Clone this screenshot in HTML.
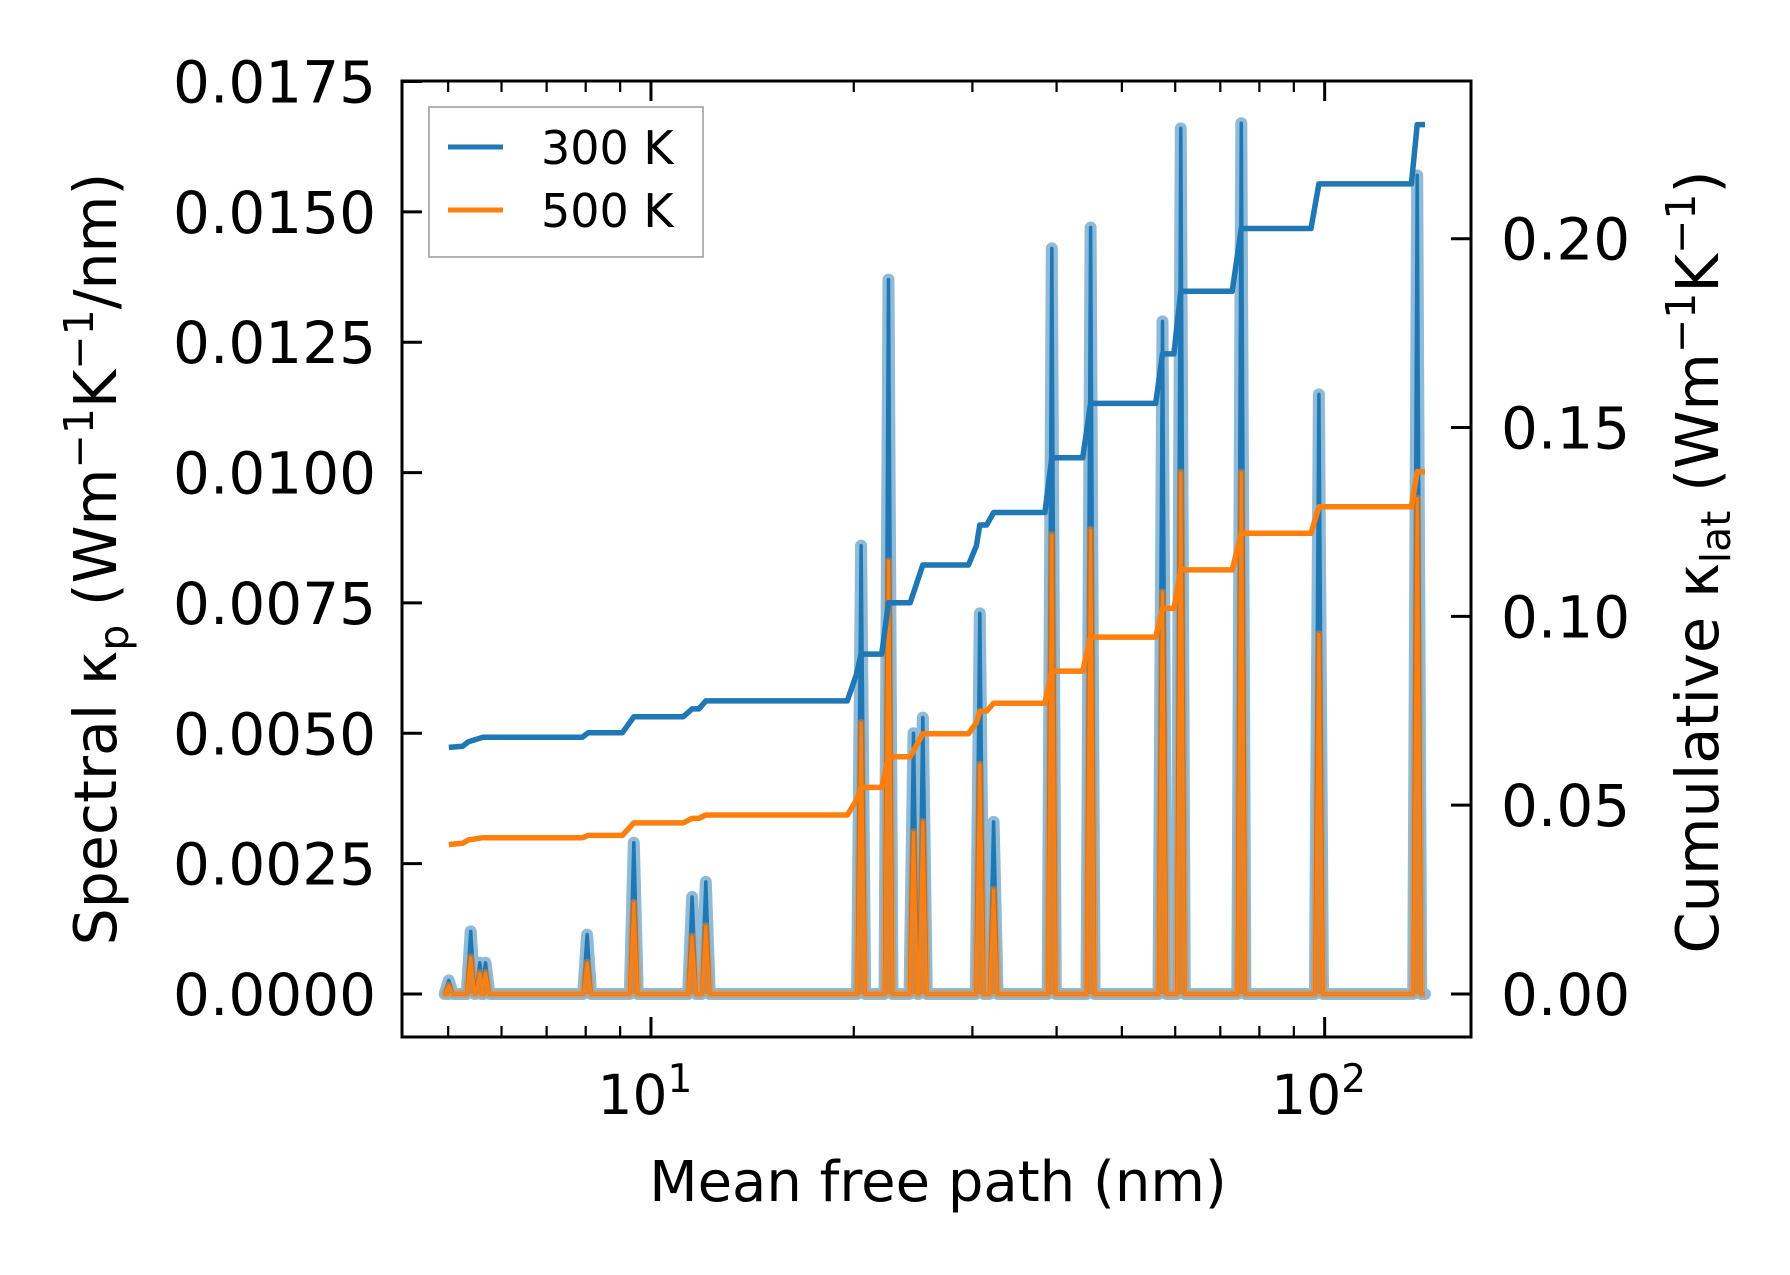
<!DOCTYPE html>
<html><head><meta charset="utf-8">
<style>
html,body{margin:0;padding:0;background:#fff;}
svg{display:block;font-family:"DejaVu Sans","Liberation Sans",sans-serif;}
</style></head>
<body>
<svg id="chart" width="1790" height="1275" viewBox="0 0 1790 1275" xmlns="http://www.w3.org/2000/svg">
<g id="plot"></g>
<g>
<text x="938" y="1201" text-anchor="middle" font-size="56">Mean free path (nm)</text>
<text transform="translate(116,559) rotate(-90)" text-anchor="middle" font-size="58.5">Spectral κ<tspan font-size="41" dy="12">p</tspan><tspan dy="-12"> (Wm</tspan><tspan font-size="41" dy="-23">−1</tspan><tspan dy="23">K</tspan><tspan font-size="41" dy="-23">−1</tspan><tspan dy="23">/nm)</tspan></text>
<text transform="translate(1718,562) rotate(-90)" text-anchor="middle" font-size="59">Cumulative κ<tspan font-size="41" dy="12">lat</tspan><tspan dy="-12"> (Wm</tspan><tspan font-size="41" dy="-23">−1</tspan><tspan dy="23">K</tspan><tspan font-size="41" dy="-23">−1</tspan><tspan dy="23">)</tspan></text>
</g>
<g>
<rect x="429" y="107" width="274" height="150" fill="#fff" fill-opacity="0.8" stroke="#999" stroke-width="1.5"/>
<line x1="448" y1="147" x2="503" y2="147" stroke="#1f77b4" stroke-width="5"/>
<text x="541" y="164" font-size="46">300 K</text>
<line x1="448" y1="210" x2="503" y2="210" stroke="#ff7f0e" stroke-width="5"/>
<text x="541" y="227" font-size="46">500 K</text>
</g>
</svg>
<script>
// Cumulative data
const cumMfp = [5.01,5.25,5.36,5.63,7.91,8.07,9.07,9.43,11.16,11.51,11.78,12.06,19.56,20.18,20.51,22.00,22.52,24.25,25.32,29.60,30.41,30.77,31.50,32.25,38.43,39.35,43.73,44.93,56.13,57.45,59.74,61.15,72.90,75.22,95.43,98.06,134.5,137.2,140.9];
const cum300 = [0.0653,0.0656,0.0668,0.0680,0.0680,0.0692,0.0692,0.0734,0.0734,0.0755,0.0755,0.0776,0.0776,0.0846,0.0900,0.0900,0.1036,0.1036,0.1136,0.1136,0.1187,0.1242,0.1242,0.1275,0.1275,0.1420,0.1420,0.1564,0.1564,0.1695,0.1695,0.1861,0.1861,0.2027,0.2027,0.2145,0.2145,0.2302,0.2302];
const cum500 = [0.0396,0.0399,0.0408,0.0414,0.0414,0.0420,0.0420,0.0453,0.0453,0.0465,0.0465,0.0474,0.0474,0.0513,0.0547,0.0547,0.0628,0.0628,0.0689,0.0689,0.0719,0.0749,0.0749,0.0770,0.0770,0.0855,0.0855,0.0945,0.0945,0.1021,0.1021,0.1123,0.1123,0.1220,0.1220,0.1290,0.1290,0.1383,0.1383];
// Spectral peaks
const peakMfp = [5.01,5.40,5.57,5.68,8.04,9.43,11.51,12.06,20.51,22.52,24.53,25.32,30.77,32.25,39.35,44.93,57.45,61.15,75.22,98.06,137.2];
const peak300 = [0.00026,0.0012,0.0006,0.0006,0.00114,0.0029,0.00186,0.00215,0.0086,0.0137,0.0050,0.0053,0.0073,0.0033,0.0143,0.0147,0.0129,0.0166,0.0167,0.0115,0.0157];
const peak500 = [0.00016,0.0007,0.0004,0.0004,0.0006,0.00175,0.0011,0.0013,0.0052,0.0083,0.0031,0.0033,0.0044,0.0020,0.0088,0.0089,0.0077,0.0100,0.0100,0.0069,0.0095];
const leftTicks = ["0.0000","0.0025","0.0050","0.0075","0.0100","0.0125","0.0150","0.0175"];
const rightTicks = ["0.00","0.05","0.10","0.15","0.20"];

const L=402,R=1471,T=81,B=1037;
const xMin=Math.log10(4.27), xMax=Math.log10(164.9);
const X=v=>L+(Math.log10(v)-xMin)/(xMax-xMin)*(R-L);
const YL=v=>994-v/0.0175*(994-81.5);
const YR=v=>994-v/0.2*(994-238.7);
const NS='http://www.w3.org/2000/svg';
const g=document.getElementById('plot');
function mk(tag,attrs,parent){const e=document.createElementNS(NS,tag);for(const k in attrs)e.setAttribute(k,attrs[k]);(parent||g).appendChild(e);return e;}

function specPts(h){
  const pts=[];const d=0.006;
  pts.push([X(5.01),YL(0)]);
  for(let i=0;i<peakMfp.length;i++){
    const lx=Math.log10(peakMfp[i]);
    pts.push([X(Math.pow(10,lx-d)),YL(0)]);
    pts.push([X(peakMfp[i]),YL(h[i])]);
    pts.push([X(Math.pow(10,lx+d)),YL(0)]);
  }
  pts.push([X(140.9),YL(0)]);
  return pts;
}
const toD=p=>p.map((q,i)=>(i?'L':'M')+q[0].toFixed(1)+','+q[1].toFixed(1)).join('');
const p3=specPts(peak300), p5=specPts(peak500);
let e;
e=mk('path',{d:toD(p3)+'Z',fill:'#1f77b4','fill-opacity':0.45,stroke:'none'});


e=mk('path',{d:toD(p3),fill:'none',stroke:'#1f77b4','stroke-opacity':0.5,'stroke-width':12,'stroke-linejoin':'round','stroke-linecap':'round'});


e=mk('path',{d:toD(p3),fill:'none',stroke:'#1f77b4','stroke-width':3.5,'stroke-linejoin':'round'});


e=mk('path',{d:toD(p5)+'Z',fill:'#ff7f0e','fill-opacity':0.5,stroke:'none'});


e=mk('path',{d:toD(p5),fill:'none',stroke:'#ff7f0e','stroke-opacity':0.5,'stroke-width':8,'stroke-linejoin':'round'});


e=mk('path',{d:toD(p5),fill:'none',stroke:'#ff7f0e','stroke-width':3,'stroke-linejoin':'round'});



e=mk('path',{d:toD(cumMfp.map((m,i)=>[X(m),YR(cum300[i])])),fill:'none',stroke:'#1f77b4','stroke-width':5.5,'stroke-linejoin':'round'});


e=mk('path',{d:toD(cumMfp.map((m,i)=>[X(m),YR(cum500[i])])),fill:'none',stroke:'#ff7f0e','stroke-width':5.5,'stroke-linejoin':'round'});



e=mk('rect',{x:L,y:T,width:R-L,height:B-T,fill:'none',stroke:'#000','stroke-width':3});



leftTicks.forEach(t=>{
  const y=YL(parseFloat(t));
  let l=mk('line',{x1:L,x2:L+20,y1:y,y2:y,stroke:'#000','stroke-width':3});
  
  
  let tx=mk('text',{x:L-26,y:y+21,'text-anchor':'end','font-size':58});
  tx.textContent=t;
  
  
});
rightTicks.forEach(t=>{
  const y=YR(parseFloat(t));
  let l=mk('line',{x1:R-20,x2:R,y1:y,y2:y,stroke:'#000','stroke-width':3});
  
  
  let tx=mk('text',{x:R+30,y:y+21,'text-anchor':'start','font-size':58});
  tx.textContent=t;
  
  
});
for(let dec=1;dec<=100;dec*=10){
  for(let k=1;k<10;k++){
    const v=k*dec; if(v<4.27||v>164.9) continue;
    const x=X(v), major=(k===1), len=major?20:11;
    [[B,B-len],[T,T+len]].forEach(([a,b])=>{
      let l=mk('line',{x1:x,x2:x,y1:a,y2:b,stroke:'#000','stroke-width':major?3:2.2});
      
      
    });
    if(major){
      let tx=mk('text',{x:x-6,y:1114,'text-anchor':'middle','font-size':55});
      tx.textContent='10';
      let ts=mk('tspan',{dy:-22,'font-size':39},tx);ts.textContent=(dec===10?'1':'2');
      
      
    }
  }
}
</script>
</body></html>
